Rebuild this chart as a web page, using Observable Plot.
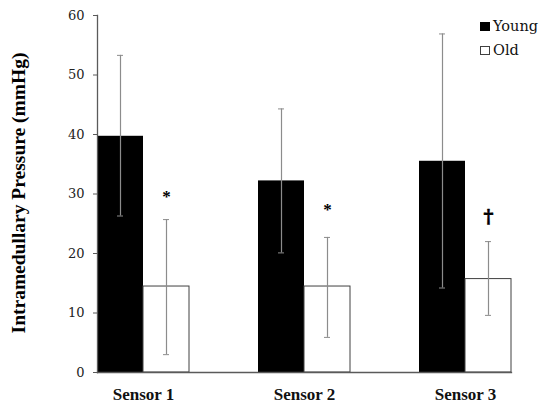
<!DOCTYPE html>
<html>
<head>
<meta charset="utf-8">
<script src="https://cdn.jsdelivr.net/npm/d3@7"></script>
<script src="https://cdn.jsdelivr.net/npm/@observablehq/plot@0.6"></script>
<style>
  html, body { margin: 0; padding: 0; background: #fff; }
  #wrap { position: relative; width: 550px; height: 407px; font-family: "DejaVu Serif", serif; }
  #ylabel { position: absolute; left: 19px; top: 193px; transform: translate(-50%, -50%) rotate(-90deg);
    white-space: nowrap; font-family: "Liberation Serif", "DejaVu Serif", serif; font-weight: bold; font-size: 19.5px; color: #000; }
  #legend { position: absolute; left: 480px; top: 14px; font-family: "DejaVu Serif", serif; font-size: 14.5px; color: #111; line-height: 24px; }
  .sw { display: inline-block; width: 10px; height: 9px; margin-right: 3px; box-sizing: border-box; }
</style>
</head>
<body>
<div id="wrap">
  <div id="chart"></div>
  <div id="ylabel">Intramedullary Pressure (mmHg)</div>
  <div id="legend"></div>
</div>
<script>
const sensors = ["Sensor 1", "Sensor 2", "Sensor 3"];
const groups = ["Young", "Old"];
const youngMean = [39.7, 32.2, 35.5];
const youngLow = [26.3, 20.1, 14.2];
const youngHigh = [53.3, 44.3, 56.9];
const oldMean = [14.45, 14.45, 15.7];
const oldLow = [3.0, 5.9, 9.6];
const oldHigh = [25.7, 22.7, 22.0];
const sigMarks = ["*", "*", "\u2020"];
const sigY = [29.5, 27.4, 26.2];
const yTicks = [0, 10, 20, 30, 40, 50, 60];

const rows = sensors.flatMap((s, i) => [
  {sensor: s, group: "Young", value: youngMean[i], lo: youngLow[i], hi: youngHigh[i]},
  {sensor: s, group: "Old", value: oldMean[i], lo: oldLow[i], hi: oldHigh[i]}
]);
const ann = sensors.map((s, i) => ({sensor: s, group: "Old", y: sigY[i], text: sigMarks[i]}));

const errColor = "#8c8c8c";
const axisColor = "#5a5a5a";

const chart = Plot.plot({
  width: 550,
  height: 407,
  marginLeft: 62,
  marginRight: 5,
  marginTop: 15,
  marginBottom: 35,
  style: {fontFamily: "'DejaVu Serif', serif", background: "white", color: "#222"},
  fx: {domain: sensors, paddingInner: 0.43, paddingOuter: 0.215},
  x: {domain: groups, padding: 0},
  y: {domain: [0, 60]},
  marks: [
    Plot.barY(rows.filter(d => d.group === "Young"), {fx: "sensor", x: "group", y: "value", fill: "black"}),
    Plot.barY(rows.filter(d => d.group === "Old"), {fx: "sensor", x: "group", y: "value", fill: "white", stroke: "#404040", strokeWidth: 1}),
    Plot.ruleX(rows, {fx: "sensor", x: "group", y1: "lo", y2: "hi", stroke: errColor, strokeWidth: 1.2}),
    Plot.tickY(rows, {fx: "sensor", x: "group", y: "lo", stroke: errColor, insetLeft: 20, insetRight: 20}),
    Plot.tickY(rows, {fx: "sensor", x: "group", y: "hi", stroke: errColor, insetLeft: 20, insetRight: 20}),
    Plot.text(ann.filter(d => d.text === "*"), {fx: "sensor", x: "group", y: "y", text: "text", fontSize: 17, fontWeight: "bold", fill: "black", fontFamily: "'Liberation Serif', 'DejaVu Serif', serif"}),
    Plot.text(ann.filter(d => d.text !== "*"), {fx: "sensor", x: "group", y: "y", text: "text", fontSize: 19, fontWeight: "bold", fill: "black", stroke: "black", strokeWidth: 0.6, fontFamily: "'DejaVu Serif', serif"}),
    Plot.frame({anchor: "bottom", facet: "super", stroke: axisColor, strokeWidth: 1.3}),
    Plot.frame({anchor: "left", facet: "super", stroke: axisColor, strokeWidth: 1.3}),
    Plot.axisY({ticks: yTicks, tickSize: 4, tickPadding: 9, fontSize: 13, stroke: axisColor, fill: "#222", label: null}),
    Plot.axisX({ticks: [], label: null}),
    Plot.axisFx({anchor: "bottom", tickSize: 0, tickPadding: 15, fontSize: 17, fontWeight: "bold", fill: "#111", label: null, fontFamily: "'Liberation Serif', 'DejaVu Serif', serif"})
  ]
});
document.getElementById("chart").appendChild(chart);

const legend = document.getElementById("legend");
groups.forEach(g => {
  const row = document.createElement("div");
  const sw = document.createElement("span");
  sw.className = "sw";
  sw.style.background = g === "Young" ? "#000" : "#fff";
  sw.style.border = g === "Young" ? "none" : "1px solid #404040";
  row.appendChild(sw);
  row.appendChild(document.createTextNode(g));
  legend.appendChild(row);
});
</script>
</body>
</html>
